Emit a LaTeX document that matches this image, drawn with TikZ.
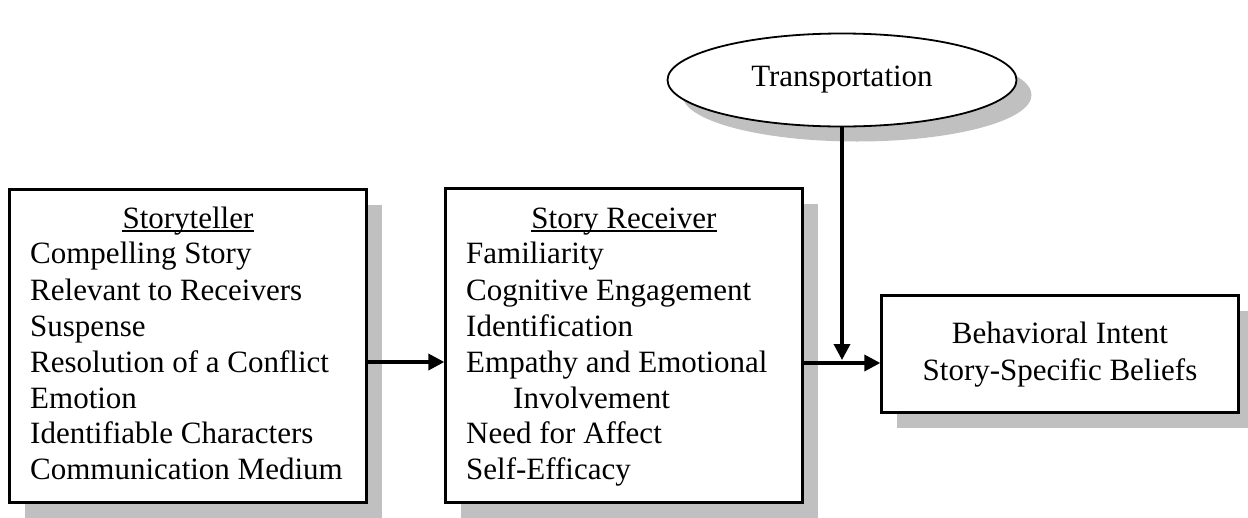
\documentclass[tikz,border=0pt]{standalone}
\usepackage{fontspec}
\setmainfont{Liberation Serif}
\usetikzlibrary{arrows.meta,shadows,shapes.geometric}
\definecolor{shadowgray}{RGB}{192,192,192}
\begin{document}
\begin{tikzpicture}[x=1pt,y=-1pt,
  shad/.style={drop shadow={shadow xshift=15pt, shadow yshift=-15pt, fill=shadowgray, opacity=1}},
  box/.style={draw, line width=2.3pt, fill=white, inner sep=0pt, shad},
  oval/.style={ellipse, draw, line width=1.8pt, fill=white, inner sep=0pt, shad},
  txt/.style={inner sep=0pt, anchor=base west, font=\fontsize{31}{36}\selectfont},
  ctxt/.style={inner sep=0pt, anchor=base, font=\fontsize{31}{36}\selectfont},
  uline/.style={line width=1.6pt},
  conn/.style={line width=3.5pt, -{Triangle[length=16pt,width=16pt]}}]
\useasboundingbox (0,0) rectangle (1248,517);

% boxes
\node[box, minimum width=357pt, minimum height=313pt] (teller) at (188,346) {};
\node[box, minimum width=357pt, minimum height=314pt] (receiver) at (624,345.5) {};
\node[box, minimum width=357pt, minimum height=117pt] (outcome) at (1060,354) {};
\node[oval, minimum width=349pt, minimum height=93pt] (trans) at (842,80) {};

% ellipse text
\node[ctxt] (ttrans) at (842,86) {Transportation};

% storyteller text
\node[ctxt] (h1) at (188,228) {Storyteller};
\draw[uline] ([yshift=-3pt]h1.base west) -- ([yshift=-3pt]h1.base east);
\node[txt] (s1) at (30,263) {Compelling Story};
\node[txt] (s2) at (30,300) {Relevant to Receivers};
\node[txt] (s3) at (30,336) {Suspense};
\node[txt] (s4) at (30,372) {Resolution of a Conflict};
\node[txt] (s5) at (30,408) {Emotion};
\node[txt] (s6) at (30,443) {Identifiable Characters};
\node[txt] (s7) at (30,479) {Communication Medium};

% receiver text
\node[ctxt] (h2) at (624,228) {Story Receiver};
\draw[uline] ([yshift=-3pt]h2.base west) -- ([yshift=-3pt]h2.base east);
\node[txt] (r1) at (466,263) {Familiarity};
\node[txt] (r2) at (466,300) {Cognitive Engagement};
\node[txt] (r3) at (466,336) {Identification};
\node[txt] (r4) at (466,372) {Empathy and Emotional};
\node[txt] (r5) at (513,408) {Involvement};
\node[txt] (r6) at (466,443) {Need for Affect};
\node[txt] (r7) at (466,479) {Self-Efficacy};

% outcome text
\node[ctxt] (o1) at (1060,343) {Behavioral Intent};
\node[ctxt] (o2) at (1060,380) {Story-Specific Beliefs};

% connectors
\coordinate (y1) at (0,362);
\coordinate (y2) at (0,363);
\coordinate (yt) at (0,360);
\draw[conn] (teller.east |- y1) -- (receiver.west |- y1);
\draw[conn] (receiver.east |- y2) -- (outcome.west |- y2);
\draw[conn] (trans.south) -- (trans.south |- yt);
\end{tikzpicture}
\end{document}
